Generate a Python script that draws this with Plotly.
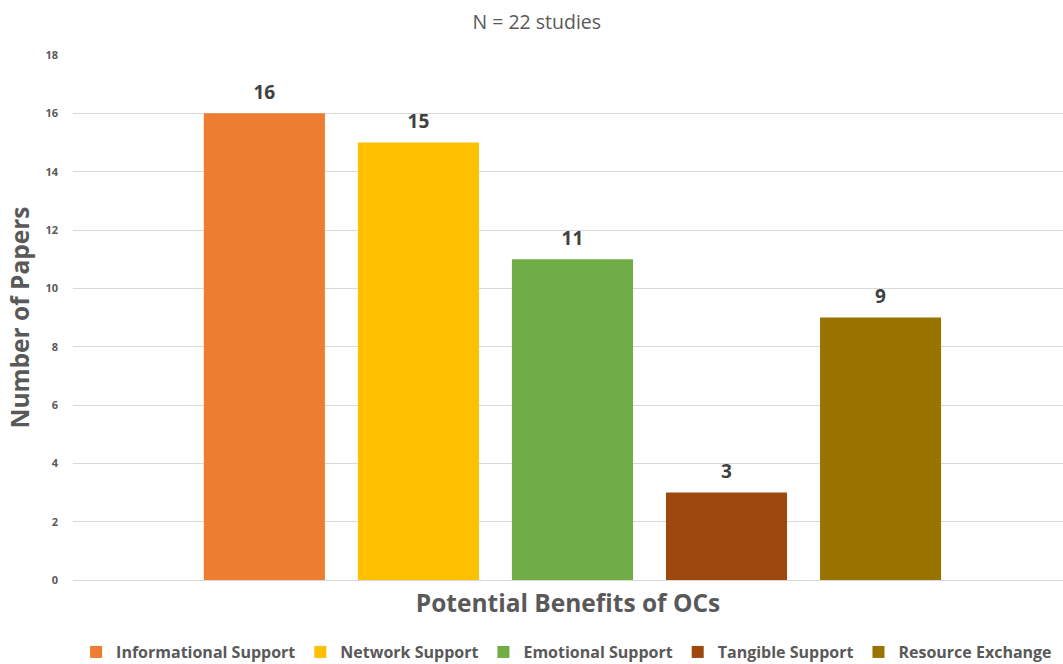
import plotly.graph_objects as go

category = ["Potential Benefits of OCs"]
series_names = ["Informational Support", "Network Support", "Emotional Support",
                "Tangible Support", "Resource Exchange"]
series_values = [16, 15, 11, 3, 9]
series_colors = ["#ED7D31", "#FFC000", "#70AD47", "#9E480E", "#997300"]
y_ticks = [0, 2, 4, 6, 8, 10, 12, 14, 16, 18]

FONT = "Open Sans"
GRAY = "#595959"
BARGAP = 0.222

fig = go.Figure()
for name, val, col in zip(series_names, series_values, series_colors):
    fig.add_trace(go.Bar(
        x=category, y=[val], name=name, offsetgroup=name,
        marker=dict(color=col, line=dict(width=0)),
        hoverinfo="name+y",
    ))
# value labels, aligned to the bar groups
for name, val in zip(series_names, series_values):
    fig.add_trace(go.Scatter(
        x=category, y=[val], mode="markers+text", offsetgroup=name,
        marker=dict(size=14, opacity=0), text=[str(val)], textposition="top center",
        textfont=dict(family=FONT, size=19, color="#404040", weight="bold"),
        showlegend=False, hoverinfo="skip", cliponaxis=False,
    ))

fig.update_layout(
    width=1063, height=664,
    margin=dict(l=73, r=0, t=55, b=84),
    paper_bgcolor="white", plot_bgcolor="white",
    barmode="group", bargap=BARGAP, bargroupgap=0.214,
    scattermode="group", scattergap=BARGAP,
    title=dict(text="N = 22 studies", x=0.505, xanchor="center", y=0.967, yanchor="middle",
               yref="container",
               font=dict(family=FONT, size=19.5, color=GRAY)),
    showlegend=True,
    legend=dict(orientation="h", x=0.533, xanchor="center", xref="container",
                y=0.018, yanchor="middle", yref="container",
                font=dict(family=FONT, size=16, color=GRAY, weight="bold"),
                itemclick=False, traceorder="normal"),
    font=dict(family=FONT, color=GRAY),
)
fig.update_xaxes(
    range=[-0.5045, 0.4955], showticklabels=False, showgrid=False, zeroline=False,
    showline=False, ticks="",
    title=dict(text="Potential Benefits of OCs", standoff=14,
               font=dict(family=FONT, size=24.5, color=GRAY, weight="bold")),
)
fig.update_yaxes(
    range=[0, 18], tickvals=y_ticks, showgrid=True, gridcolor="#D9D9D9", gridwidth=1,
    zeroline=True, zerolinecolor="#D9D9D9", zerolinewidth=1, showline=False,
    ticks="", ticklabelstandoff=14,
    tickfont=dict(family=FONT, size=11, color=GRAY, weight="bold"),
    title=dict(text="Number of Papers", standoff=8,
               font=dict(family=FONT, size=24.5, color=GRAY, weight="bold")),
)

fig.write_html("out.html")
